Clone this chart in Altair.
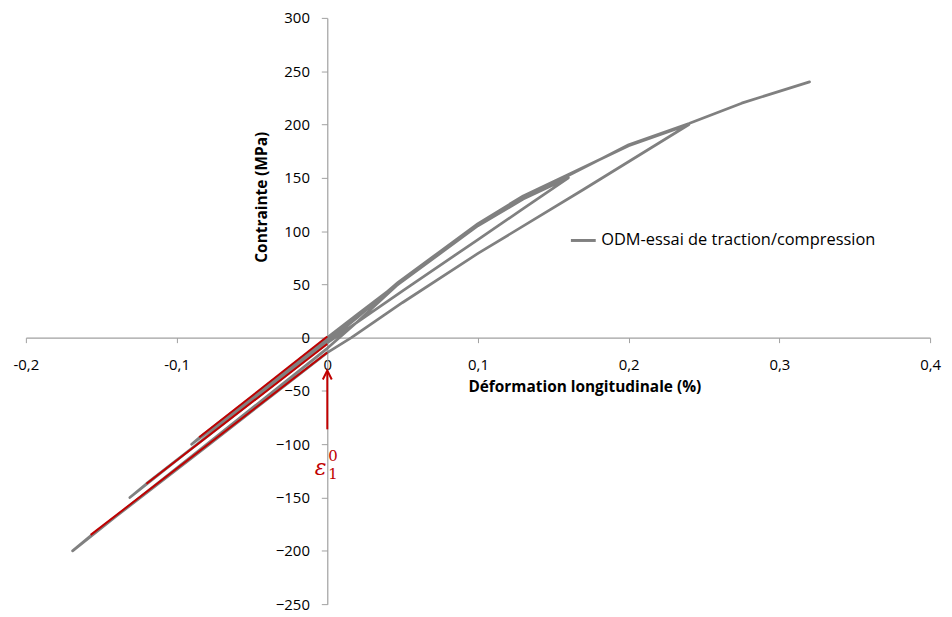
import altair as alt
import pandas as pd

# ---------------- data ----------------
# main gray curve: strain (%) and stress (MPa), in test order
strain = [0.0, 0.02, 0.047, 0.07, 0.095,
          0.07, 0.045, 0.02, 0.0, -0.045, -0.085, -0.09,
          -0.06, -0.03, 0.0, 0.02, 0.047, 0.075, 0.1, 0.13, 0.16,
          0.13, 0.1, 0.05, 0.0, -0.06, -0.12, -0.131,
          -0.09, -0.045, 0.0, 0.02, 0.047, 0.075, 0.1, 0.13, 0.16, 0.2, 0.24,
          0.17, 0.1, 0.05, 0.016, 0.0, -0.08, -0.157, -0.169,
          -0.08, 0.0, 0.02, 0.047, 0.075, 0.1, 0.13, 0.16, 0.2, 0.24, 0.275, 0.32]
stress = [0, 22, 51, 75, 100,
          74, 48, 21, 0, -50, -94, -100,
          -68, -35, -3, 20, 50, 79, 105, 130, 150,
          121, 92, 44, -5, -71, -137, -150,
          -104, -53, -4, 19, 52, 81, 107, 133, 153, 180, 200,
          139, 79, 33, 0, -14, -102, -186, -200,
          -100, -10, 15, 50, 79, 106, 131, 152, 181, 201, 220, 240]
series_name = "ODM-essai de traction/compression"

# red straight segments in compression
red_id = [1, 1, 2, 2, 3, 3]
red_strain = [0.0, -0.085, 0.0, -0.12, 0.0, -0.157]
red_stress = [1, -93.5, -6, -137, -14, -185]

# arrow pointing at the origin (epsilon_1^0)
arrow_strain = [0.0]
arrow_from = [-86]
arrow_to = [-33]
arrow_head = [-35]

x_ticks = [-0.2, -0.1, 0, 0.1, 0.2, 0.3, 0.4]
y_ticks = [-250, -200, -150, -100, -50, 0, 50, 100, 150, 200, 250, 300]

# ---------------- layout ----------------
W, H = 910, 590
XDOM = [-0.2, 0.4]
YDOM = [-250, 300]
FONT = "Open Sans"
RED = "#c00000"
GRAY = "#808080"
AXIS_GRAY = "#a0a0a0"

x_pos0 = W * (0 - XDOM[0]) / (XDOM[1] - XDOM[0])   # pixel of x = 0 from left
y_pos0 = H * (YDOM[1] - 0) / (YDOM[1] - YDOM[0])   # pixel of y = 0 from top

xscale = alt.Scale(domain=XDOM, nice=False, zero=False)
yscale = alt.Scale(domain=YDOM, nice=False, zero=False)

x_axis = alt.Axis(
    values=x_ticks, offset=-(H - y_pos0), grid=False,
    labelExpr="replace(toString(round(datum.value*10)/10), '.', ',')",
    labelFlush=False, labelOverlap=False,
    domainColor=AXIS_GRAY, tickColor=AXIS_GRAY, tickSize=5, domainWidth=1.2,
    labelPadding=15, labelFont=FONT, labelFontSize=15, labelColor="black",
    title="Déformation longitudinale (%)", titleFont=FONT, titleFontSize=15.5,
    titleFontWeight="bold", titleColor="black", titleX=562, titleY=49,
    titleAlign="center", titleBaseline="middle",
)
y_axis = alt.Axis(
    values=y_ticks, offset=-x_pos0, grid=False,
    labelFlush=False, labelOverlap=False,
    domainColor=AXIS_GRAY, tickColor=AXIS_GRAY, tickSize=6, domainWidth=1.2,
    labelPadding=12, labelFont=FONT, labelFontSize=15, labelColor="black",
    title="Contrainte (MPa)", titleFont=FONT, titleFontSize=15.5,
    titleFontWeight="bold", titleColor="black", titleAngle=270,
    titleX=-66, titleY=180, titleAlign="center", titleBaseline="middle",
)

main_df = pd.DataFrame({"i": range(len(strain)), "strain": strain,
                        "stress": stress, "series": series_name})
red_df = pd.DataFrame({"id": red_id, "strain": red_strain, "stress": red_stress})
arrow_df = pd.DataFrame({"strain": arrow_strain, "s1": arrow_from,
                         "s2": arrow_to, "head": arrow_head})
eps_df = pd.DataFrame({"strain": [-0.0045], "stress": [-122], "t": ["ε"]})
sup_df = pd.DataFrame({"strain": [0.0006], "stress": [-111], "t": ["0"]})
sub_df = pd.DataFrame({"strain": [0.0006], "stress": [-128], "t": ["1"]})

gray = alt.Chart(main_df).mark_line(strokeWidth=2.75, strokeJoin="round",
                                    strokeCap="round").encode(
    x=alt.X("strain:Q", scale=xscale, axis=x_axis),
    y=alt.Y("stress:Q", scale=yscale, axis=y_axis),
    order="i:Q",
    color=alt.Color("series:N",
                    scale=alt.Scale(domain=[series_name], range=[GRAY]),
                    legend=alt.Legend(title=None, orient="none", legendX=547,
                                      legendY=210, symbolType="stroke",
                                      symbolSize=625, symbolStrokeWidth=3,
                                      labelFont=FONT, labelFontSize=16.5,
                                      labelColor="black", labelOffset=4,
                                      labelLimit=500, padding=0)),
)

red = alt.Chart(red_df).mark_line(strokeWidth=2, color=RED).encode(
    x=alt.X("strain:Q", scale=xscale),
    y=alt.Y("stress:Q", scale=yscale),
    detail="id:N",
)

arrow = alt.Chart(arrow_df).mark_rule(strokeWidth=2, color=RED).encode(
    x=alt.X("strain:Q", scale=xscale),
    y=alt.Y("s1:Q", scale=yscale),
    y2="s2:Q",
)
head = alt.Chart(arrow_df).mark_point(shape="M-1,1L0,-1L1,1", filled=False,
                                      size=81, strokeWidth=2, color=RED,
                                      opacity=1).encode(
    x=alt.X("strain:Q", scale=xscale),
    y=alt.Y("head:Q", scale=yscale),
)

eps = alt.Chart(eps_df).mark_text(font="DejaVu Serif", fontStyle="italic",
                                  fontSize=22, color=RED).encode(
    x=alt.X("strain:Q", scale=xscale), y=alt.Y("stress:Q", scale=yscale), text="t:N")
sup = alt.Chart(sup_df).mark_text(font="DejaVu Serif", fontSize=15, color=RED,
                                  align="left").encode(
    x=alt.X("strain:Q", scale=xscale), y=alt.Y("stress:Q", scale=yscale), text="t:N")
sub = alt.Chart(sub_df).mark_text(font="DejaVu Serif", fontSize=15, color=RED,
                                  align="left").encode(
    x=alt.X("strain:Q", scale=xscale), y=alt.Y("stress:Q", scale=yscale), text="t:N")

chart = alt.layer(gray, red, arrow, head, eps, sup, sub).properties(
    width=W, height=H,
    autosize=alt.AutoSizeParams(type="none"),
    padding={"left": 18, "top": 8, "right": 14, "bottom": 12},
    background="white",
).configure_view(stroke=None)

chart.save("out.html", embed_options={"renderer": "svg", "actions": False})
